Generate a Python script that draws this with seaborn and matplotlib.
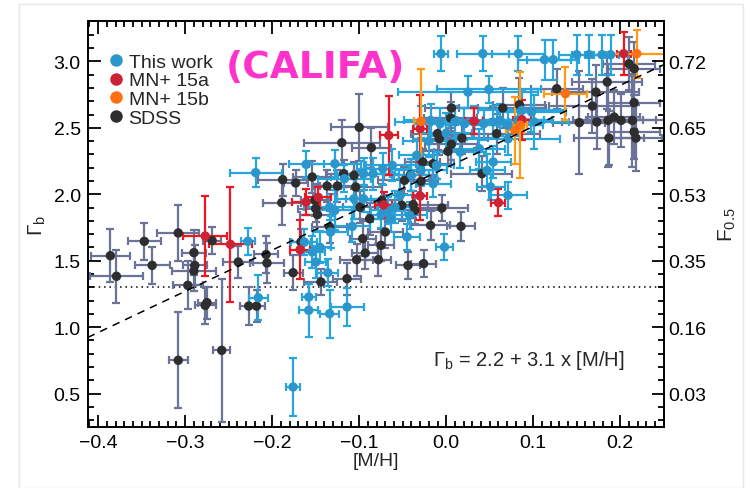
"""Bulge IMF slope Gamma_b versus metallicity [M/H] for CALIFA, MN+15 and SDSS samples."""

import matplotlib

matplotlib.use("Agg")
import matplotlib.pyplot as plt
import numpy as np
import pandas as pd
import seaborn as sns
from matplotlib.lines import Line2D
from matplotlib.ticker import MultipleLocator

# --- data ([M/H], Gamma_b, x error, y error) ---
sdss_mh = [-0.386, -0.379, -0.347, -0.338, -0.308, -0.297, -0.290, -0.289, -0.290, -0.277,
           -0.275, -0.269, -0.308, -0.258, -0.239, -0.227, -0.218, -0.207, -0.206, -0.189,
           -0.188, -0.176, -0.173, -0.167, -0.154, -0.151, -0.150, -0.148, -0.144, -0.137,
           -0.134, -0.125, -0.120, -0.118, -0.106, -0.104, -0.114, -0.103, -0.100, -0.099,
           -0.096, -0.093, -0.088, -0.086, -0.078, -0.075, -0.074, -0.070, -0.051, -0.048,
           -0.044, -0.041, -0.038, -0.036, -0.029, -0.027, -0.026, -0.018, -0.015, -0.010,
           -0.008, -0.005, 0.002, 0.005, 0.006, 0.006, 0.017, 0.018, 0.041, 0.058,
           0.065, 0.084, 0.127, 0.153, 0.168, 0.172, 0.173, 0.185, 0.186, 0.187,
           0.193, 0.201, 0.210, 0.214, 0.216, 0.216, 0.216, 0.218]
sdss_gamma = [1.538, 1.383, 1.646, 1.465, 1.709, 1.315, 1.561, 1.465, 1.423, 1.164,
              1.185, 1.651, 0.751, 0.826, 1.490, 1.159, 1.159, 1.547, 1.483, 1.937,
              2.110, 1.410, 2.085, 1.641, 2.130, 1.954, 1.892, 1.847, 1.340, 2.062,
              1.754, 2.062, 2.388, 2.155, 2.142, 2.055, 1.365, 1.508, 2.504, 1.902,
              1.666, 1.558, 1.816, 2.351, 1.508, 1.616, 1.954, 1.716, 1.917, 2.105,
              1.465, 2.147, 1.922, 1.879, 2.097, 2.243, 1.478, 1.766, 2.230, 2.456,
              2.418, 1.897, 2.323, 2.574, 2.649, 2.376, 1.759, 2.423, 2.155, 2.456,
              2.649, 2.674, 2.794, 2.539, 2.664, 2.769, 2.544, 2.845, 2.556, 2.423,
              2.581, 2.556, 2.982, 2.556, 2.945, 2.689, 2.468, 2.423]
sdss_xerr = [0.022, 0.030, 0.019, 0.020, 0.024, 0.017, 0.014, 0.014, 0.025, 0.012,
             0.010, 0.010, 0.011, 0.010, 0.017, 0.010, 0.010, 0.014, 0.019, 0.022,
             0.028, 0.011, 0.014, 0.012, 0.022, 0.016, 0.020, 0.020, 0.019, 0.016,
             0.020, 0.020, 0.044, 0.020, 0.020, 0.030, 0.016, 0.019, 0.033, 0.020,
             0.015, 0.015, 0.020, 0.022, 0.015, 0.015, 0.020, 0.020, 0.030, 0.030,
             0.014, 0.030, 0.040, 0.030, 0.020, 0.020, 0.014, 0.022, 0.020, 0.030,
             0.030, 0.030, 0.030, 0.030, 0.030, 0.030, 0.016, 0.030, 0.035, 0.050,
             0.050, 0.030, 0.030, 0.030, 0.050, 0.050, 0.040, 0.040, 0.040, 0.040,
             0.030, 0.040, 0.030, 0.040, 0.030, 0.030, 0.030, 0.030]
sdss_yerr = [0.20, 0.20, 0.14, 0.14, 0.21, 0.18, 0.17, 0.15, 0.15, 0.14,
             0.12, 0.10, 0.36, 0.54, 0.12, 0.14, 0.12, 0.14, 0.15, 0.17,
             0.12, 0.13, 0.10, 0.10, 0.12, 0.12, 0.10, 0.12, 0.10, 0.12,
             0.12, 0.12, 0.17, 0.10, 0.10, 0.12, 0.12, 0.12, 0.25, 0.12,
             0.13, 0.12, 0.12, 0.15, 0.12, 0.12, 0.12, 0.12, 0.12, 0.10,
             0.10, 0.12, 0.10, 0.10, 0.10, 0.10, 0.10, 0.11, 0.10, 0.12,
             0.12, 0.10, 0.10, 0.12, 0.12, 0.12, 0.11, 0.12, 0.13, 0.15,
             0.15, 0.20, 0.15, 0.39, 0.20, 0.20, 0.20, 0.20, 0.35, 0.20,
             0.20, 0.20, 0.20, 0.35, 0.20, 0.20, 0.20, 0.25]

califa_mh = [-0.219, -0.228, -0.216, -0.176, -0.158, -0.158, -0.134, -0.114, -0.154, -0.136,
             -0.150, -0.133, -0.108, -0.128, -0.106, -0.161, -0.128, -0.095, -0.084, -0.073,
             -0.062, -0.053, -0.059, -0.067, -0.064, -0.075, -0.045, -0.042, -0.040, -0.034,
             -0.029, -0.015, -0.011, -0.002, -0.006, 0.042, 0.083, 0.025, 0.113, 0.123,
             0.150, 0.164, 0.179, 0.189, 0.101, 0.087, 0.071, 0.051, 0.054, 0.047,
             0.038, 0.071, 0.016, 0.010, 0.021, 0.032, 0.043, 0.054, 0.062, 0.071,
             0.082, 0.098, -0.029, -0.018, -0.007, 0.049, -0.134, -0.095, -0.117, -0.163,
             -0.145, 0.000, -0.020]
califa_gamma = [2.163, 1.646, 1.222, 0.550, 1.227, 1.127, 1.102, 1.152, 1.566, 1.410,
                1.490, 1.716, 1.759, 1.879, 1.967, 2.225, 2.230, 2.155, 2.155, 2.193,
                2.218, 1.992, 1.904, 1.879, 1.816, 1.847, 1.679, 1.842, 2.142, 2.293,
                2.180, 2.080, 2.218, 1.603, 3.058, 3.058, 3.058, 2.769, 3.013, 3.013,
                3.050, 3.050, 3.050, 3.050, 2.544, 2.631, 1.992, 2.055, 2.243, 2.180,
                2.343, 2.418, 2.318, 2.544, 2.531, 2.544, 2.531, 2.544, 2.556, 2.519,
                2.556, 2.619, 2.544, 2.556, 2.531, 2.789, 1.904, 1.967, 2.117, 1.640,
                1.600, 2.460, 2.400]
califa_xerr = [0.030, 0.008, 0.011, 0.008, 0.008, 0.011, 0.011, 0.019, 0.015, 0.012,
               0.012, 0.020, 0.020, 0.020, 0.020, 0.020, 0.030, 0.030, 0.030, 0.030,
               0.030, 0.020, 0.020, 0.020, 0.020, 0.015, 0.015, 0.020, 0.020, 0.020,
               0.030, 0.020, 0.020, 0.010, 0.008, 0.030, 0.030, 0.080, 0.030, 0.030,
               0.020, 0.020, 0.020, 0.020, 0.040, 0.050, 0.022, 0.016, 0.020, 0.020,
               0.030, 0.060, 0.030, 0.040, 0.040, 0.040, 0.040, 0.040, 0.050, 0.040,
               0.040, 0.040, 0.030, 0.030, 0.030, 0.060, 0.030, 0.020, 0.030, 0.015,
               0.012, 0.030, 0.030]
califa_yerr = [0.11, 0.10, 0.17, 0.22, 0.10, 0.20, 0.18, 0.14, 0.12, 0.10,
               0.12, 0.12, 0.12, 0.15, 0.15, 0.10, 0.10, 0.12, 0.12, 0.12,
               0.12, 0.12, 0.12, 0.10, 0.10, 0.10, 0.10, 0.10, 0.12, 0.12,
               0.12, 0.10, 0.10, 0.10, 0.13, 0.13, 0.13, 0.12, 0.15, 0.15,
               0.15, 0.15, 0.15, 0.15, 0.20, 0.15, 0.10, 0.10, 0.12, 0.12,
               0.15, 0.12, 0.12, 0.12, 0.12, 0.12, 0.12, 0.12, 0.12, 0.12,
               0.12, 0.15, 0.12, 0.12, 0.12, 0.10, 0.10, 0.10, 0.10, 0.10,
               0.12, 0.15, 0.12]

mn15a_mh = [-0.277, -0.248, -0.168, -0.161, -0.147, -0.066, -0.072, -0.030, -0.030, 0.032,
            0.087, 0.060, 0.204]
mn15a_gamma = [1.686, 1.623, 1.583, 1.942, 1.977, 2.443, 1.920, 2.494, 1.987, 2.550,
               2.561, 1.937, 3.058]
mn15a_xerr = [0.025, 0.025, 0.012, 0.016, 0.015, 0.010, 0.010, 0.008, 0.008, 0.010,
              0.010, 0.008, 0.008]
mn15a_yerr = [0.30, 0.43, 0.22, 0.10, 0.08, 0.30, 0.10, 0.25, 0.18, 0.10,
              0.15, 0.10, 0.16]

mn15b_mh = [-0.029, 0.079, 0.085, 0.137, 0.219]
mn15b_gamma = [2.549, 2.481, 2.520, 2.757, 3.058]
mn15b_xerr = [0.008, 0.010, 0.008, 0.025, 0.040]
mn15b_yerr = [0.39, 0.25, 0.40, 0.20, 0.18]

fit_intercept = 2.2
fit_slope = 3.1
gamma_threshold = 1.3

right_ticks = [0.5, 1.0, 1.5, 2.0, 2.5, 3.0]
right_labels = ["0.03", "0.16", "0.35", "0.53", "0.65", "0.72"]

samples = [
    ("SDSS", sdss_mh, sdss_gamma, sdss_xerr, sdss_yerr, "#6b7399", "#2e2e2e"),
    ("This work", califa_mh, califa_gamma, califa_xerr, califa_yerr, "#27a6dd", "#2b96cc"),
    ("MN+ 15a", mn15a_mh, mn15a_gamma, mn15a_xerr, mn15a_yerr, "#ee1620", "#cc2233"),
    ("MN+ 15b", mn15b_mh, mn15b_gamma, mn15b_xerr, mn15b_yerr, "#ff9a14", "#ff6e10"),
]
legend_order = ["This work", "MN+ 15a", "MN+ 15b", "SDSS"]

sns.set_theme(style="ticks")
plt.rcParams["font.family"] = ["Liberation Sans", "DejaVu Sans"]
plt.rcParams["mathtext.fontset"] = "custom"
plt.rcParams["mathtext.rm"] = "Liberation Sans"
plt.rcParams["mathtext.it"] = "Liberation Sans"

fig = plt.figure(figsize=(7.5, 4.89), dpi=100)
ax = fig.add_axes([0.117, 0.125, 0.768, 0.829])

frames = []
for name, mh, gamma, xerr, yerr, bar_color, dot_color in samples:
    ax.errorbar(mh, gamma, xerr=xerr, yerr=yerr, fmt="none", ecolor=bar_color,
                elinewidth=1.6, capsize=3.2, capthick=1.6, zorder=2)
    frames.append(pd.DataFrame({"mh": mh, "gamma": gamma, "sample": name}))

data = pd.concat(frames, ignore_index=True)
palette = {name: dot for name, *_, dot in samples}
sns.scatterplot(data=data, x="mh", y="gamma", hue="sample", palette=palette,
                s=46, edgecolor="none", legend=False, ax=ax, zorder=3)

xlim = (-0.412, 0.25)
fit_x = np.array(xlim)
ax.plot(fit_x, fit_intercept + fit_slope * fit_x, ls=(0, (5, 4)), color="black", lw=1.1, zorder=4)
ax.axhline(gamma_threshold, ls=(0, (1, 2.5)), color="black", lw=1.1, zorder=1)

ax.set_xlim(*xlim)
ax.set_ylim(0.25, 3.3)
ax.xaxis.set_major_locator(MultipleLocator(0.1))
ax.xaxis.set_minor_locator(MultipleLocator(0.01))
ax.yaxis.set_major_locator(MultipleLocator(0.5))
ax.yaxis.set_minor_locator(MultipleLocator(0.1))
ax.xaxis.set_major_formatter(lambda v, _: f"{v:.1f}".replace("-", "\u2212"))
ax.tick_params(which="both", direction="in", top=True, right=False, width=1.3, colors="black",
               labelsize=14)
ax.tick_params(which="major", length=9, pad=5)
ax.tick_params(which="minor", length=4.5)
for spine in ax.spines.values():
    spine.set_linewidth(1.4)
    spine.set_color("black")
ax.set_xlabel("[M/H]", fontsize=14, labelpad=1)
ax.set_ylabel(r"$\Gamma_{\rm b}$", fontsize=15, labelpad=4)

ax_right = ax.twinx()
ax_right.set_ylim(ax.get_ylim())
ax_right.set_yticks(right_ticks)
ax_right.set_yticklabels(right_labels)
ax_right.yaxis.set_minor_locator(MultipleLocator(0.1))
ax_right.tick_params(which="both", direction="in", width=1.3, labelsize=14, colors="black")
ax_right.tick_params(which="major", length=9, pad=3)
ax_right.tick_params(which="minor", length=4.5)
ax_right.set_ylabel(r"F$_{0.5}$", fontsize=15, labelpad=8)
for spine in ax_right.spines.values():
    spine.set_visible(False)

handles = [Line2D([], [], ls="none", marker="o", markersize=9, color=palette[name],
                  markeredgecolor="none") for name in legend_order]
ax.legend(handles, legend_order, loc="upper left", bbox_to_anchor=(0.0, 0.96), frameon=False,
          fontsize=14, handletextpad=0.0, handlelength=1.3, labelspacing=0.05,
          borderaxespad=0.4)

ax.text(0.396, 0.887, "(CALIFA)", transform=ax.transAxes, fontsize=27, fontweight="bold",
        color="#ff33cc", family="DejaVu Sans", ha="center", va="center")
ax.text(0.095, 0.76, r"$\Gamma_{\rm b}$ = 2.2 + 3.1 x [M/H]", fontsize=14.5, ha="center",
        va="center", zorder=5)

fig.patches.append(plt.Rectangle((0.025, 0.0), 0.965, 0.99, transform=fig.transFigure,
                                 fill=False, edgecolor="#e8e8e8", lw=1.0))
fig.savefig("out.png", dpi=100)
plt.close(fig)
